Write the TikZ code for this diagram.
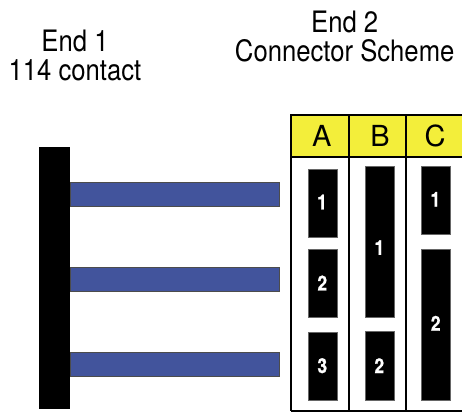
\documentclass[tikz,border=0pt]{standalone}
\usepackage{fontspec}
\setmainfont{TeX Gyre Heros}
\newfontfamily\condtitle[FakeStretch=0.87]{TeX Gyre Heros}
\newfontfamily\condnum[FakeStretch=0.85,FakeBold=1]{TeX Gyre Heros Bold}
\tikzset{
  x=1pt,y=-1pt,
  title/.style={align=center,font=\condtitle\fontsize{29.5}{29}\selectfont,inner sep=0pt,text=black},
  block/.style={fill=black,draw=black!60,line width=0.5pt},
  bar/.style={fill=blue1,draw=black!70,line width=0.8pt},
  grid/.style={draw=black,line width=1.6pt},
  num/.style={text=white,font=\condnum\fontsize{20.5}{20.5}\selectfont,inner sep=0pt},
  head/.style={font=\fontsize{29}{29}\selectfont,inner sep=0pt},
}
\definecolor{blue1}{RGB}{66,84,156}
\definecolor{yel}{RGB}{243,238,58}
\begin{document}
\begin{tikzpicture}
\useasboundingbox (0,0) rectangle (462,412);
\node[title] (e1) at (75,55.5) {End 1\\114 contact};
\node[title] (e2) at (344.7,36.2) {End 2\\Connector Scheme};
% connector body and bars
\draw[bar] (70,182) rectangle (279,206);
\draw[bar] (70,267) rectangle (279,291);
\draw[bar] (70,352) rectangle (279,376);
\fill[black] (39,147) rectangle (70,409);
% header
\fill[yel] (291,115) rectangle (462,157);
\draw[grid] (462,115) -- (291,115) -- (291,411);
\draw[grid] (291,157) -- (462,157);
\draw[grid] (348.7,115) -- (348.7,411);
\draw[grid] (406,115) -- (406,411);
\draw[grid] (291,411) -- (462,411);
\node[head] (ha) at (321.7,136.4) {A};
\node[head] (hb) at (380,136.4) {B};
\node[head] (hc) at (435,136.4) {C};
% blocks
\draw[block] (308.7,169) rectangle (337,237);
\draw[block] (308.7,249) rectangle (337,317.5);
\draw[block] (308.7,332) rectangle (337,400);
\draw[block] (365.7,166) rectangle (394,317);
\draw[block] (365.7,331.5) rectangle (394,400);
\draw[block] (421.7,166) rectangle (450,234.5);
\draw[block] (421.7,249) rectangle (450,400);
\node[num] (a1) at (322,202) {1};
\node[num] (a2) at (322.3,283) {2};
\node[num] (a3) at (322.3,365.7) {3};
\node[num] (b1) at (379.3,247.6) {1};
\node[num] (b2) at (379.3,365.7) {2};
\node[num] (c1) at (435.3,199.3) {1};
\node[num] (c2) at (435.7,323.3) {2};
\end{tikzpicture}
\end{document}
